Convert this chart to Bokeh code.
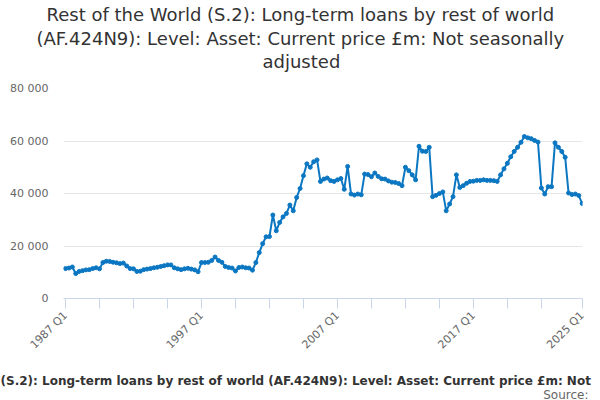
import math
from bokeh.plotting import figure
from bokeh.models import Range1d, FixedTicker, ColumnDataSource, Title
from bokeh.embed import file_html
from bokeh.resources import INLINE

# ---------------- data ----------------
start_year = 1987
values = [
    11400, 11600, 12000, 9500, 10300, 10600, 10900, 11000, 11400, 11700,
    11300, 13700, 14200, 14100, 13800, 13600, 13300, 13500, 12400, 11400,
    11300, 10300, 10400, 11000, 11200, 11400, 11700, 11900, 12200, 12500,
    12800, 12800, 11700, 11300, 11000, 11300, 11500, 11200, 10900, 10200,
    13700, 13700, 13800, 14500, 15800, 14500, 13800, 12200, 11800, 11600,
    10500, 11800, 12000, 11700, 11600, 10800, 13700, 17500, 20900, 23500,
    23600, 31800, 25800, 29000, 31100, 32400, 35600, 33400, 38500, 41900,
    46800, 51300, 50000, 52100, 52800, 44600, 45500, 45900, 44900, 44600,
    45200, 45700, 41600, 50300, 39800, 39400, 39800, 39500, 47400, 47200,
    46400, 47800, 46500, 45600, 45500, 44800, 44300, 44200, 43800, 43000,
    50000, 48700, 47100, 45200, 58000, 56100, 56000, 57600, 38800, 39300,
    40000, 40600, 33400, 36000, 38800, 47100, 42300, 43000, 43900, 44600,
    44700, 45000, 45000, 45200, 45000, 45000, 44900, 44600, 47100, 49400,
    51500, 54000, 56000, 57600, 59500, 61700, 61200, 60900, 60200, 59600,
    42100, 39800, 42600, 42600, 59300, 57600, 56000, 53800, 40200, 39600,
    39800, 39200, 36200,
]
quarters = ["%d Q%d" % (start_year + i // 4, i % 4 + 1) for i in range(len(values))]
x_index = list(range(len(values)))

x_tick_positions = [0, 10, 20, 30, 40, 50, 60, 70, 80, 90, 100, 110, 120, 130, 140, 152]
x_label_positions = [0, 40, 80, 120, 152]
x_tick_labels = ["1987 Q1", "1997 Q1", "2007 Q1", "2017 Q1", "2025 Q1"]
y_ticks = [0, 20000, 40000, 60000, 80000]
y_tick_labels = ["0", "20 000", "40 000", "60 000", "80 000"]

title_lines = [
    "Rest of the World (S.2): Long-term loans by rest of world",
    "(AF.424N9): Level: Asset: Current price £m: Not seasonally",
    "adjusted",
]
legend_visible = ("(S.2): Long-term loans by rest of world (AF.424N9): "
                  "Level: Asset: Current price £m: Not")
source_text = "Source:"

# ---------------- figure ----------------
W, H = 600, 400
L, R, T, B = 63, 18, 88, 102
FONT = "DejaVu Sans"
BLUE = "#0b77c2"

p = figure(width=W, height=H, output_backend="svg", toolbar_location=None,
           x_range=Range1d(-0.6, 152.1), y_range=Range1d(0, 80000),
           min_border_left=L, min_border_right=R, min_border_top=T, min_border_bottom=B)
p.outline_line_color = None
p.background_fill_color = "white"
p.border_fill_color = "white"

src = ColumnDataSource(dict(x=x_index, y=values, q=quarters))
p.line("x", "y", source=src, line_color=BLUE, line_width=2)
p.scatter("x", "y", source=src, size=4, fill_color=BLUE, line_color=BLUE)

xa = p.xaxis[0]
xa.ticker = FixedTicker(ticks=x_tick_positions)
label_map = dict(zip(x_label_positions, x_tick_labels))
xa.major_label_overrides = {t: label_map.get(t, "") for t in x_tick_positions}
xa.major_label_orientation = math.pi / 4
xa.axis_line_color = "#ccd6eb"
xa.major_tick_line_color = "#ccd6eb"
xa.major_tick_out = 10
xa.major_tick_in = 0
xa.minor_tick_line_color = None
xa.major_label_text_font = FONT
xa.major_label_text_font_size = "11px"
xa.major_label_text_color = "#666666"
xa.major_label_standoff = 5

ya = p.yaxis[0]
ya.ticker = FixedTicker(ticks=y_ticks)
ya.major_label_overrides = {t: s for t, s in zip(y_ticks, y_tick_labels)}
ya.axis_line_color = None
ya.major_tick_line_color = None
ya.minor_tick_line_color = None
ya.major_tick_out = 0
ya.major_tick_in = 0
ya.major_label_standoff = 15
ya.major_label_text_font = FONT
ya.major_label_text_font_size = "11px"
ya.major_label_text_color = "#666666"

p.xgrid.grid_line_color = None
p.ygrid.grid_line_color = "#e6e6e6"
p.ygrid.ticker = FixedTicker(ticks=y_ticks)


def title(text, size, offset, align="left", style="normal", color="#333333", standoff=0):
    return Title(text=text, align=align, offset=offset, standoff=standoff,
                 vertical_align="middle", text_font=FONT, text_font_size=size,
                 text_font_style=style, text_color=color)


# above: first added sits closest to the frame
p.add_layout(title(" ", "12px", 0), "above")            # spacer
p.add_layout(title(title_lines[2], "18px", 262 - L), "above")
p.add_layout(title(title_lines[1], "18px", 36 - L), "above")
p.add_layout(title(title_lines[0], "18px", 46 - L, standoff=2), "above")

# below: axis first, then spacer, legend, source
p.add_layout(title(" ", "10px", 0), "below")            # spacer
p.add_layout(title(legend_visible, "12px", 0 - L, style="bold"), "below")
p.add_layout(title(source_text, "12px", (W - R) - 588, align="right",
                   color="#666666", standoff=-4), "below")

open("out.html", "w").write(file_html(p, INLINE))
